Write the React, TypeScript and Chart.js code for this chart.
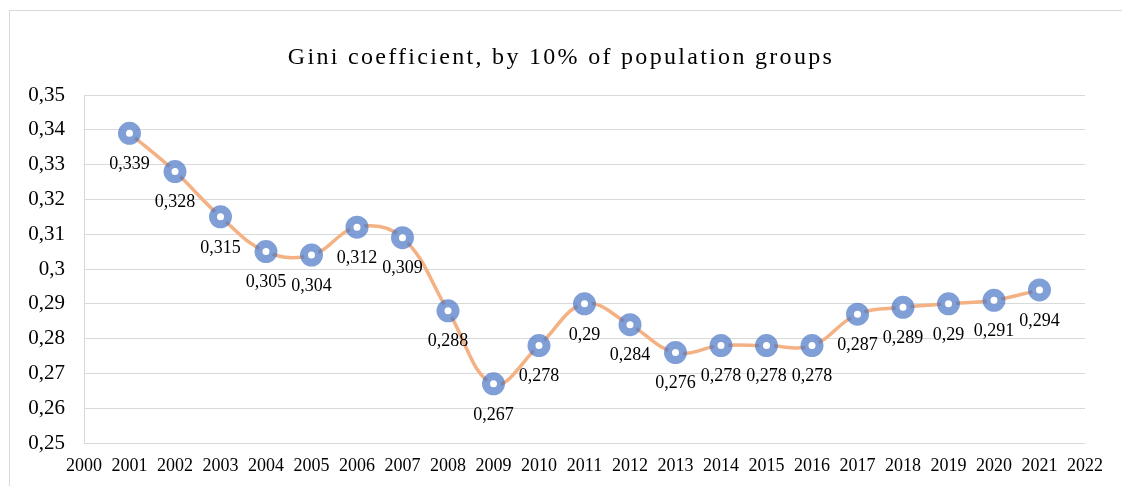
import React, { useEffect, useRef } from "react";
import { Chart, registerables } from "chart.js";

Chart.register(...registerables);

const TITLE = "Gini coefficient, by 10% of population groups";
const years = [2001, 2002, 2003, 2004, 2005, 2006, 2007, 2008, 2009, 2010, 2011, 2012, 2013, 2014, 2015, 2016, 2017, 2018, 2019, 2020, 2021];
const gini = [0.339, 0.328, 0.315, 0.305, 0.304, 0.312, 0.309, 0.288, 0.267, 0.278, 0.29, 0.284, 0.276, 0.278, 0.278, 0.278, 0.287, 0.289, 0.29, 0.291, 0.294];
const xMin = 2000;
const xMax = 2022;
const yMin = 0.25;
const yMax = 0.35;
const yStep = 0.01;

const FONT = "'Liberation Serif', 'Times New Roman', serif";
const fmt = (v: number) => String(Math.round(v * 1000) / 1000).replace(".", ",");

const framePlugin = {
  id: "frame",
  beforeDraw(chart: any) {
    const ctx = chart.ctx;
    ctx.save();
    ctx.fillStyle = "#ffffff";
    ctx.fillRect(0, 0, chart.width, chart.height);
    ctx.strokeStyle = "#d9d9d9";
    ctx.lineWidth = 1;
    ctx.strokeRect(9.5, 10.5, 1400, 800);
    ctx.restore();
  },
};

const titlePlugin = {
  id: "spacedTitle",
  afterDraw(chart: any) {
    const ctx = chart.ctx;
    ctx.save();
    ctx.font = `24px ${FONT}`;
    (ctx as any).letterSpacing = "2.3px";
    ctx.fillStyle = "#000000";
    ctx.textAlign = "center";
    ctx.textBaseline = "alphabetic";
    ctx.fillText(TITLE, 561, 64);
    ctx.restore();
  },
};

const labelPlugin = {
  id: "pointLabels",
  afterDatasetsDraw(chart: any) {
    const ctx = chart.ctx;
    const meta = chart.getDatasetMeta(0);
    ctx.save();
    ctx.font = `18px ${FONT}`;
    ctx.fillStyle = "#000000";
    ctx.textAlign = "center";
    ctx.textBaseline = "middle";
    meta.data.forEach((pt: any, i: number) => {
      ctx.fillText(fmt(gini[i]), pt.x, pt.y + 31);
    });
    ctx.restore();
  },
};

export default function App() {
  const ref = useRef<HTMLCanvasElement | null>(null);
  useEffect(() => {
    if (!ref.current) return;
    const chart = new Chart(ref.current, {
      type: "line",
      data: {
        datasets: [
          {
            data: years.map((y, i) => ({ x: y, y: gini[i] })),
            borderColor: "#f4b183",
            borderWidth: 3.5,
            tension: 0.4,
            pointRadius: 7.5,
            pointHoverRadius: 7.5,
            pointBorderWidth: 8,
            pointBackgroundColor: "#ffffff",
            pointBorderColor: "rgba(68,114,196,0.68)",
          },
        ],
      },
      options: {
        animation: false,
        responsive: false,
        devicePixelRatio: 1,
        layout: { padding: { top: 95, right: 37, bottom: 0, left: 0 } },
        plugins: {
          legend: { display: false },
          title: { display: false },
          tooltip: { enabled: false },
        },
        scales: {
          x: {
            type: "linear",
            min: xMin,
            max: xMax,
            grid: { display: false, drawTicks: false },
            border: { display: false },
            ticks: {
              stepSize: 1,
              autoSkip: false,
              maxRotation: 0,
              padding: 12,
              color: "#000000",
              font: { family: FONT, size: 18 },
              callback: (v: any) => String(v),
            },
            afterFit: (s: any) => {
              s.height = 43;
            },
          },
          y: {
            min: yMin,
            max: yMax,
            grid: { color: "#d9d9d9", lineWidth: 1, drawTicks: false },
            border: { display: true, color: "#d9d9d9", width: 1 },
            ticks: {
              stepSize: yStep,
              padding: 19,
              color: "#000000",
              font: { family: FONT, size: 21 },
              callback: (v: any) => fmt(Number(v)),
            },
            afterFit: (s: any) => {
              s.width = 84;
            },
          },
        },
      },
      plugins: [framePlugin, titlePlugin, labelPlugin],
    });
    return () => chart.destroy();
  }, []);
  return (
    <div style={{ position: "absolute", left: 0, top: 0, width: 1122, height: 486, background: "#fff" }}>
      <canvas ref={ref} width={1122} height={486} style={{ width: 1122, height: 486, display: "block" }} />
    </div>
  );
}
